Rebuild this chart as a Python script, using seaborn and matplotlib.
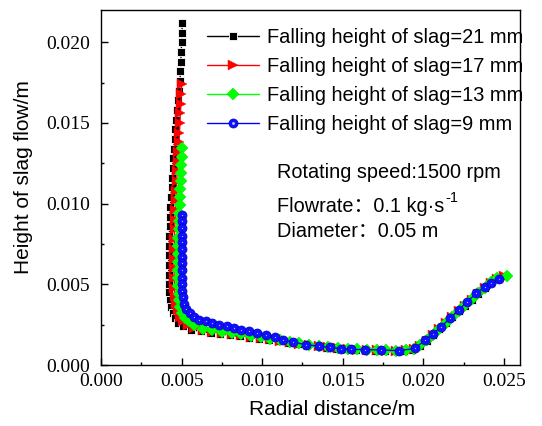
import matplotlib
matplotlib.use("Agg")
import matplotlib.pyplot as plt
from matplotlib.lines import Line2D
from matplotlib.legend_handler import HandlerTuple
from matplotlib.ticker import MultipleLocator, FormatStrFormatter
import seaborn as sns

# Slag film profiles (radial distance / height, both in m) for four falling heights
h21_x = [0.00500, 0.00505, 0.00500, 0.00498, 0.00495, 0.00493, 0.00490, 0.00485, 0.00478, 0.00470,
         0.00466, 0.00462, 0.00457, 0.00452, 0.00448, 0.00445, 0.00442, 0.00438, 0.00434, 0.00431,
         0.00428, 0.00426, 0.00424, 0.00422, 0.00421, 0.00420, 0.00420, 0.00421, 0.00423, 0.00428,
         0.00435, 0.00445, 0.00460, 0.00480, 0.00510, 0.00560,
         0.0062, 0.0068, 0.0074, 0.0080, 0.0086, 0.0092, 0.0098, 0.0104, 0.0110, 0.0116,
         0.0122, 0.0128, 0.0134, 0.0140, 0.0146, 0.0152, 0.0158, 0.0164, 0.0170, 0.0176,
         0.0182, 0.0188, 0.0193,
         0.0198, 0.0202, 0.0206, 0.0210, 0.0214, 0.0218, 0.0222, 0.0226, 0.0230, 0.0234,
         0.0238, 0.0242, 0.0246, 0.0250]
h21_y = [0.0212, 0.0206, 0.0200, 0.0194, 0.0188, 0.0182, 0.0176, 0.0170, 0.0164, 0.0158,
         0.0152, 0.0146, 0.0140, 0.0134, 0.0128, 0.0122, 0.0116, 0.0110, 0.0104, 0.0098,
         0.0092, 0.0086, 0.0080, 0.0074, 0.0068, 0.0062, 0.0056, 0.0050, 0.0045, 0.0040,
         0.0036, 0.0032, 0.0029, 0.0026, 0.0024, 0.0022,
         0.00208, 0.00200, 0.00193, 0.00186, 0.00178, 0.00170, 0.00162, 0.00154, 0.00146, 0.00138,
         0.00130, 0.00122, 0.00115, 0.00108, 0.00102, 0.00097, 0.00093, 0.00090, 0.00088, 0.00086,
         0.00085, 0.00087, 0.00095,
         0.00120, 0.00150, 0.00185, 0.00222, 0.00258, 0.00295, 0.00332, 0.00368, 0.00405, 0.00442,
         0.00478, 0.00510, 0.00535, 0.00550]

h17_x = [0.00500, 0.00498, 0.00495, 0.00492, 0.00490, 0.00487, 0.00484, 0.00480, 0.00477, 0.00473,
         0.00470, 0.00467, 0.00464, 0.00461, 0.00459, 0.00457, 0.00455, 0.00454, 0.00453, 0.00453,
         0.00454, 0.00456, 0.00460, 0.00466, 0.00475, 0.00490, 0.00510, 0.00540, 0.00580,
         0.0063, 0.0069, 0.0075, 0.0081, 0.0087, 0.0093, 0.0099, 0.0105, 0.0111, 0.0117,
         0.0123, 0.0129, 0.0135, 0.0141, 0.0147, 0.0153, 0.0159, 0.0165, 0.0171, 0.0177,
         0.0183, 0.0189, 0.0194,
         0.0198, 0.0202, 0.0206, 0.0210, 0.0214, 0.0218, 0.0222, 0.0226, 0.0230, 0.0234,
         0.0238, 0.0242, 0.0246, 0.0250]
h17_y = [0.0174, 0.0168, 0.0162, 0.0156, 0.0150, 0.0144, 0.0138, 0.0132, 0.0126, 0.0120,
         0.0114, 0.0108, 0.0102, 0.0096, 0.0090, 0.0084, 0.0078, 0.0072, 0.0066, 0.0060,
         0.0054, 0.0048, 0.0043, 0.0038, 0.0034, 0.0030, 0.0027, 0.0025, 0.0023,
         0.00215, 0.00207, 0.00200, 0.00192, 0.00184, 0.00176, 0.00168, 0.00159, 0.00150, 0.00141,
         0.00133, 0.00125, 0.00118, 0.00111, 0.00105, 0.00100, 0.00096, 0.00093, 0.00091, 0.00089,
         0.00088, 0.00090, 0.00098,
         0.00120, 0.00150, 0.00185, 0.00222, 0.00258, 0.00295, 0.00332, 0.00368, 0.00405, 0.00442,
         0.00478, 0.00510, 0.00535, 0.00552]

h13_x = [0.00500, 0.00500, 0.00498, 0.00496, 0.00494, 0.00492, 0.00490, 0.00488, 0.00486, 0.00484,
         0.00482, 0.00480, 0.00479, 0.00478, 0.00477, 0.00477, 0.00478, 0.00479, 0.00482, 0.00486,
         0.00492, 0.00502, 0.00520, 0.00545, 0.00580,
         0.0063, 0.0069, 0.0075, 0.0081, 0.0087, 0.0093, 0.0099, 0.0105, 0.0111, 0.0117,
         0.0123, 0.0129, 0.0135, 0.0141, 0.0147, 0.0153, 0.0159, 0.0165, 0.0171, 0.0177,
         0.0183, 0.0189, 0.0194,
         0.0198, 0.0202, 0.0206, 0.0210, 0.0214, 0.0218, 0.0222, 0.0226, 0.0230, 0.0234,
         0.0238, 0.0242, 0.0246, 0.0252]
h13_y = [0.01345, 0.0129, 0.0124, 0.0119, 0.0114, 0.0109, 0.0104, 0.0099, 0.0094, 0.0089,
         0.0084, 0.0079, 0.0074, 0.0069, 0.0064, 0.0059, 0.0054, 0.0049, 0.0044, 0.0040,
         0.0036, 0.0032, 0.0029, 0.0027, 0.0025,
         0.00225, 0.00215, 0.00207, 0.00199, 0.00190, 0.00181, 0.00172, 0.00163, 0.00153, 0.00144,
         0.00135, 0.00127, 0.00119, 0.00112, 0.00106, 0.00101, 0.00097, 0.00094, 0.00092, 0.00090,
         0.00089, 0.00091, 0.00100,
         0.00122, 0.00152, 0.00187, 0.00224, 0.00260, 0.00297, 0.00334, 0.00370, 0.00407, 0.00444,
         0.00480, 0.00512, 0.00537, 0.00552]

h9_x = [0.00505, 0.00505, 0.00504, 0.00503, 0.00502, 0.00501, 0.00500, 0.00500, 0.00500, 0.00501,
        0.00502, 0.00505, 0.00510, 0.00518, 0.00530, 0.00550, 0.00575, 0.00610, 0.00650, 0.00690,
        0.00735, 0.00780, 0.00825, 0.00870, 0.00920, 0.00970, 0.01025, 0.01080, 0.01130, 0.01190,
        0.0127, 0.0135, 0.0142, 0.0149, 0.0155, 0.0164, 0.0174, 0.0185, 0.0195,
        0.0201, 0.0206, 0.0211, 0.02165, 0.0222, 0.0227, 0.0233, 0.0238, 0.0242, 0.0247]
h9_y = [0.0093, 0.0089, 0.0085, 0.0080, 0.0076, 0.0072, 0.0067, 0.0063, 0.0059, 0.0054,
        0.0050, 0.0046, 0.0042, 0.0038, 0.0035, 0.0032, 0.0030, 0.0028, 0.0027, 0.0026,
        0.0025, 0.0024, 0.0023, 0.0022, 0.0021, 0.0020, 0.00188, 0.00172, 0.00155, 0.00143,
        0.00126, 0.00117, 0.00109, 0.00101, 0.00097, 0.00096, 0.00093, 0.00089, 0.00103,
        0.00155, 0.00192, 0.00237, 0.00289, 0.00341, 0.00392, 0.00444, 0.00485, 0.00510, 0.00530]

series_labels = ["Falling height of slag=21 mm", "Falling height of slag=17 mm",
                 "Falling height of slag=13 mm", "Falling height of slag=9 mm"]
x_ticks = [0.000, 0.005, 0.010, 0.015, 0.020, 0.025]
y_ticks = [0.000, 0.005, 0.010, 0.015, 0.020]

sns.set_theme(style="ticks")
plt.rcParams["font.family"] = ["Liberation Sans", "Noto Sans CJK SC", "DejaVu Sans"]
plt.rcParams["axes.edgecolor"] = "black"
plt.rcParams["axes.linewidth"] = 1.0
plt.rcParams["text.color"] = "black"
plt.rcParams["axes.labelcolor"] = "black"
plt.rcParams["xtick.direction"] = "in"
plt.rcParams["ytick.direction"] = "in"
plt.rcParams["xtick.color"] = "black"
plt.rcParams["ytick.color"] = "black"
plt.rcParams["xtick.labelcolor"] = "black"
plt.rcParams["ytick.labelcolor"] = "black"

fig = plt.figure(figsize=(5.42, 4.26), dpi=100)
ax = fig.add_axes([101 / 542, 61 / 426, 419 / 542, 355 / 426])

styles = [
    dict(color="#000000", marker="s", markersize=5.5, markerfacecolor="#000000",
         markeredgecolor="white", markeredgewidth=0.6),
    dict(color="#FF0000", marker=">", markersize=7.5, markerfacecolor="#FF0000",
         markeredgecolor="#FF0000", markeredgewidth=0.3),
    dict(color="#00FF00", marker="D", markersize=6.5, markerfacecolor="#00FF00",
         markeredgecolor="#00E000", markeredgewidth=0.3),
    dict(color="#0000FF", marker="o", markersize=6.5, markerfacecolor="#1010FF",
         markeredgecolor="#0000C0", markeredgewidth=0.5),
]
datasets = [(h21_x, h21_y), (h17_x, h17_y), (h13_x, h13_y), (h9_x, h9_y)]

for (xs, ys), st in zip(datasets, styles):
    sns.lineplot(x=xs, y=ys, sort=False, estimator=None, linewidth=1.0,
                 legend=False, ax=ax, **st)

# glossy highlight on the blue spheres
sns.scatterplot(x=h9_x, y=h9_y, s=0.8, color="#b4beff", linewidth=0, ax=ax, legend=False, zorder=5)

ax.set_xlim(0, 0.026)
ax.set_ylim(0, 0.022)
ax.set_xticks(x_ticks)
ax.set_yticks(y_ticks)
ax.xaxis.set_minor_locator(MultipleLocator(0.0025))
ax.yaxis.set_minor_locator(MultipleLocator(0.0025))
ax.xaxis.set_major_formatter(FormatStrFormatter("%.3f"))
ax.yaxis.set_major_formatter(FormatStrFormatter("%.3f"))
ax.tick_params(which="major", length=5, width=1.0, labelsize=14)
ax.tick_params(which="minor", length=2.5, width=1.0)
ax.tick_params(axis="x", which="major", pad=6)
ax.tick_params(axis="y", which="major", pad=8)
ax.tick_params(top=False, right=False, which="both")
for lab in ax.get_xticklabels() + ax.get_yticklabels():
    lab.set_fontfamily("Liberation Serif")

ax.set_xlabel("Radial distance/m", fontsize=15)
ax.set_ylabel("Height of slag flow/m", fontsize=15)
ax.xaxis.set_label_coords(0.551, -0.099)
ax.yaxis.set_label_coords(-0.162, 0.528)

# legend with line + marker handles
handles = []
for st in styles[:3]:
    handles.append(Line2D([], [], linewidth=1.0, **st))
blue_h = Line2D([], [], linewidth=1.0, **styles[3])
blue_hi = Line2D([], [], linestyle="none", marker="o", markersize=1.1, color="#b4beff")
handles.append((blue_h, blue_hi))
ax.legend(handles, series_labels, loc="upper left", bbox_to_anchor=(207 / 542, 1 - 28 / 426),
          bbox_transform=fig.transFigure, frameon=False, fontsize=14.4, handlelength=2.6,
          handletextpad=0.4, labelspacing=0.5, borderpad=0, borderaxespad=0,
          handler_map={tuple: HandlerTuple(ndivide=1)})

# operating conditions
fig.text(277 / 542, 1 - 173 / 426, "Rotating speed:1500 rpm", fontsize=14.3, va="center", ha="left")
flow = fig.text(277 / 542, 1 - 207 / 426, "Flowrate：0.1 kg·s", fontsize=14.3, va="center", ha="left")
ax.annotate("-1", xy=(1.005, 0.6), xycoords=flow, fontsize=10.5, va="bottom", ha="left")
fig.text(277 / 542, 1 - 231 / 426, "Diameter：0.05 m", fontsize=14.3, va="center", ha="left")

fig.savefig("out.png", dpi=100)
